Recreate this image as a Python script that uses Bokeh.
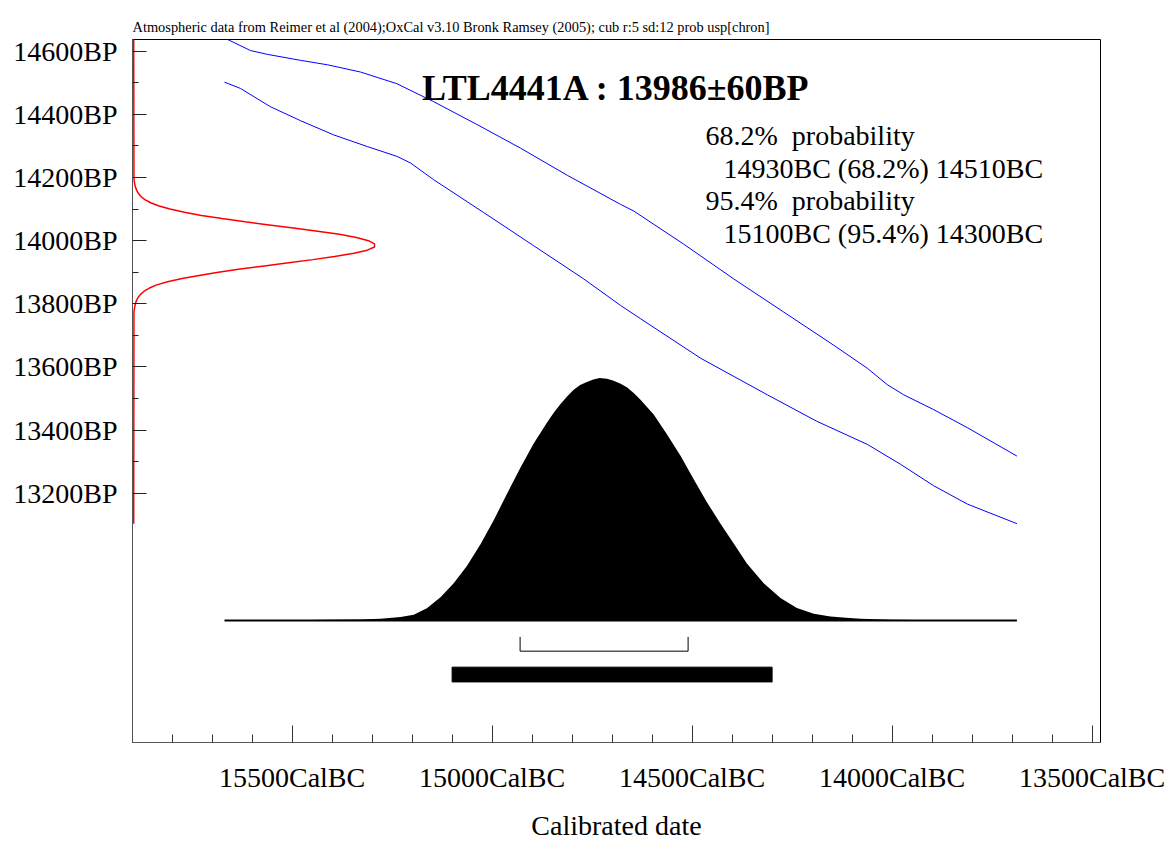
from bokeh.plotting import figure
from bokeh.models import Range1d, FixedTicker, Label
from bokeh.embed import file_html
from bokeh.resources import INLINE

# ---------------- data ----------------
sample_name = "LTL4441A"
bp_mean = 13986
bp_err = 60

x_ticks = [15500, 15000, 14500, 14000, 13500]
x_minor = [15800, 15700, 15600, 15400, 15300, 15200, 15100, 14900, 14800, 14700,
           14600, 14400, 14300, 14200, 14100, 13900, 13800, 13700, 13600]
y_ticks = [13200, 13400, 13600, 13800, 14000, 14200, 14400, 14600]
y_minor = [13300, 13500, 13700, 13900, 14100, 14300, 14500]

# calibration curve (+/- 1 sigma), CalBC vs BP
upper_x = [15674, 15604, 15562, 15479, 15412, 15329, 15238, 15146, 15038, 14929, 14812,
           14679, 14646, 14521, 14396, 14271, 14146, 14062, 14012, 13971, 13896, 13812, 13688]
upper_y = [14645, 14602, 14590, 14571, 14557, 14534, 14497, 14440, 14368, 14293, 14207,
           14115, 14094, 13989, 13879, 13774, 13669, 13596, 13544, 13512, 13465, 13408, 13318]
lower_x = [15669, 15629, 15554, 15479, 15396, 15312, 15238, 15204, 15146, 15021, 14896,
           14771, 14679, 14629, 14479, 14312, 14188, 14062, 13979, 13896, 13812, 13688]
lower_y = [14502, 14482, 14424, 14380, 14335, 14298, 14267, 14246, 14193, 14089, 13984,
           13879, 13795, 13753, 13628, 13512, 13428, 13355, 13292, 13224, 13166, 13104]

# radiocarbon measurement distribution (BP, relative density)
meas_bp = [14640, 14200, 14190, 14180, 14170, 14160, 14150, 14140, 14130, 14120, 14110,
           14100, 14090, 14080, 14070, 14060, 14050, 14040, 14030, 14020, 14010, 14000,
           13990, 13980, 13970, 13960, 13950, 13940, 13930, 13920, 13910, 13900, 13890,
           13880, 13870, 13860, 13850, 13840, 13830, 13820, 13810, 13800, 13790, 13780,
           13770, 13104]
meas_dens = [0.0, 0.001, 0.002, 0.004, 0.007, 0.012, 0.019, 0.03, 0.046, 0.07, 0.105,
             0.15, 0.21, 0.28, 0.365, 0.46, 0.56, 0.66, 0.76, 0.85, 0.92, 0.97,
             0.995, 0.995, 0.965, 0.91, 0.83, 0.74, 0.64, 0.54, 0.44, 0.35, 0.27,
             0.20, 0.14, 0.095, 0.065, 0.043, 0.028, 0.018, 0.011, 0.007, 0.004, 0.002,
             0.001, 0.0]

# calibrated distribution (CalBC, relative probability)
cal_x = [15669, 15500, 15400, 15330, 15279, 15229, 15196, 15163, 15129, 15096, 15063,
         15029, 14996, 14963, 14929, 14896, 14863, 14846, 14829, 14812, 14796, 14780,
         14763, 14747, 14731, 14713, 14696, 14680, 14663, 14646, 14629, 14596, 14563,
         14529, 14496, 14463, 14429, 14396, 14363, 14321, 14279, 14238, 14196, 14154,
         14115, 14079, 14000, 13900, 13688]
cal_p = [0.0, 0.001, 0.003, 0.004, 0.007, 0.014, 0.023, 0.05, 0.096, 0.153, 0.224,
         0.314, 0.413, 0.522, 0.631, 0.73, 0.816, 0.857, 0.893, 0.925, 0.952, 0.971,
         0.984, 0.994, 1.0, 0.997, 0.989, 0.978, 0.962, 0.939, 0.911, 0.85, 0.768,
         0.679, 0.583, 0.488, 0.399, 0.317, 0.235, 0.153, 0.092, 0.051, 0.027, 0.016,
         0.011, 0.007, 0.003, 0.001, 0.0]

range68 = [14930, 14510]
range95 = [15100, 14300]

caption = ("Atmospheric data from Reimer et al (2004);OxCal v3.10 Bronk Ramsey (2005); "
           "cub r:5 sd:12 prob usp[chron]")
summary_lines = ["68.2%\u00a0 probability", "14930BC (68.2%) 14510BC",
                 "95.4%\u00a0 probability", "15100BC (95.4%) 14300BC"]
x_title = "Calibrated date"

# ---------------- figure ----------------
FONT = "Liberation Serif"
p = figure(width=1168, height=843, output_backend="svg", toolbar_location=None,
           x_range=Range1d(15899, 13479), y_range=Range1d(12411, 14637),
           min_border_left=132, min_border_right=68, min_border_top=39,
           min_border_bottom=96, background_fill_color="white",
           border_fill_color="white")
p.extra_x_ranges = {"px": Range1d(132, 1100), "dens": Range1d(-0.005, 3.995)}
p.extra_y_ranges = {"py": Range1d(747, 39), "prob": Range1d(-0.504, 2.3975)}

p.xgrid.visible = False
p.ygrid.visible = False
p.outline_line_color = "black"
p.outline_line_width = 1

# caption as title
p.title.text = caption
p.title.text_font = FONT
p.title.text_font_size = "14.4px"
p.title.text_font_style = "normal"
p.title.text_color = "black"
p.title.align = "left"
p.title.standoff = 9

# axes
xa = p.xaxis[0]
xa.ticker = FixedTicker(ticks=x_ticks, minor_ticks=x_minor)
xa.major_label_overrides = {t: f"{t}CalBC" for t in x_ticks}
xa.major_tick_in = 17
xa.major_tick_out = 0
xa.minor_tick_in = 8
xa.minor_tick_out = 0
xa.axis_line_color = "#555555"
xa.major_tick_line_color = "#333333"
xa.minor_tick_line_color = "#333333"
xa.major_label_text_font = FONT
xa.major_label_text_font_size = "28px"
xa.major_label_text_color = "black"
xa.major_label_standoff = 19
xa.axis_label = x_title
xa.axis_label_text_font = FONT
xa.axis_label_text_font_size = "28px"
xa.axis_label_text_font_style = "normal"
xa.axis_label_text_color = "black"
xa.axis_label_standoff = 14

ya = p.yaxis[0]
ya.ticker = FixedTicker(ticks=y_ticks, minor_ticks=y_minor)
ya.major_label_overrides = {t: f"{t}BP" for t in y_ticks}
ya.major_tick_in = 14
ya.major_tick_out = 0
ya.minor_tick_in = 6
ya.minor_tick_out = 0
ya.axis_line_color = "#555555"
ya.major_tick_line_color = "#222222"
ya.minor_tick_line_color = "#222222"
ya.major_label_text_font = FONT
ya.major_label_text_font_size = "28px"
ya.major_label_text_color = "black"
ya.major_label_standoff = 15
ya.major_label_orientation = "horizontal"

# calibration curve
p.line(upper_x, upper_y, line_color="#0000ff", line_width=1)
p.line(lower_x, lower_y, line_color="#0000ff", line_width=1)

# measurement distribution on the BP axis
p.line(meas_dens, meas_bp, x_range_name="dens", line_color="red", line_width=1.5)

# calibrated distribution
p.varea(x=cal_x, y1=[0] * len(cal_x), y2=cal_p, y_range_name="prob",
        fill_color="black")
p.line([cal_x[0], cal_x[-1]], [0, 0], y_range_name="prob",
       line_color="black", line_width=2)

# 68.2% bracket and 95.4% bar
p.line([range68[0], range68[0], range68[1], range68[1]],
       [-0.068, -0.127, -0.127, -0.068], y_range_name="prob",
       line_color="black", line_width=1)
p.quad(left=[range95[0]], right=[range95[1]], bottom=[-0.254], top=[-0.193],
       y_range_name="prob", fill_color="black", line_color="black")

# texts inside the plot area
def lab(x, y, text, size, bold=False, align="left"):
    p.add_layout(Label(x=x, y=y, x_range_name="px", y_range_name="py", text=text,
                       text_font=FONT, text_font_size=size,
                       text_font_style="bold" if bold else "normal",
                       text_align=align, text_baseline="alphabetic",
                       text_color="black"))

lab(421.5, 88.3, f"{sample_name} : {bp_mean}\u00b1{bp_err}BP", "36px", bold=True)
lab(705, 135.5, summary_lines[0], "28px")
lab(723, 168.5, summary_lines[1], "28px")
lab(705, 201.5, summary_lines[2], "28px")
lab(723, 234.5, summary_lines[3], "28px")

open("out.html", "w").write(file_html(p, INLINE))
